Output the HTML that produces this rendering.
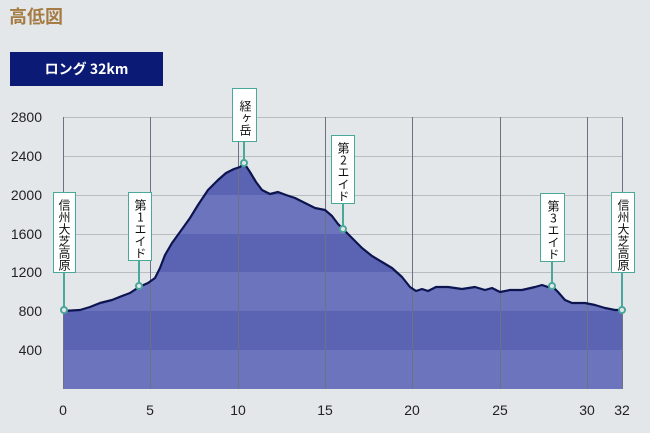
<!DOCTYPE html>
<html><head><meta charset="utf-8"><style>
body{margin:0;width:650px;height:433px;background:#e4e7ea;overflow:hidden;position:relative;font-family:"Liberation Sans","Noto Sans CJK JP",sans-serif}
.t{position:absolute;left:9px;top:3px;font-size:18px;font-weight:bold;color:#a47c44;font-family:"Noto Sans CJK JP",sans-serif}
.b{position:absolute;left:10px;top:52px;width:153px;height:34px;background:#0b1a74;color:#fff;font-size:14px;font-weight:bold;text-align:center;line-height:34px;font-family:"Noto Sans CJK JP",sans-serif}
.lb{position:absolute;background:#fff;border:1px solid #4aa89a;box-sizing:border-box;writing-mode:vertical-rl;text-orientation:upright;font-size:12px;line-height:22px;text-align:center;padding-top:5px;color:#111;font-family:"Noto Sans CJK JP",sans-serif;letter-spacing:0px}
</style></head><body>
<div class="t">高低図</div>
<div class="b">ロング 32km</div>
<svg width="650" height="433" style="position:absolute;left:0;top:0">
<defs><clipPath id="c"><path d="M63,389 L63,311 80,310 90,307 100,303 112,300 122,296 130,293 139,287 148,283 155,278 160,268 165,255 172,243 180,232 190,218 198,205 208,190 218,180 226,173 234,169 240,167 244,163 250,172 256,182 262,190 270,194 278,192 286,195 295,198 305,203 315,208 325,210 332,216 338,224 343,229 352,238 362,248 372,256 382,262 392,268 402,277 410,287 416,291 422,289 428,291 436,287 448,287 462,289 475,287 485,290 492,288 500,292 510,290 522,290 535,287 542,285 548,287 552,286 558,292 565,300 572,303 585,303 595,305 605,308 615,310 622,310 L622,389 Z"/></clipPath></defs>
<g stroke="#b9bcc0" stroke-width="1">
<line x1="63" y1="117.5" x2="622" y2="117.5"/><line x1="63" y1="156.5" x2="622" y2="156.5"/><line x1="63" y1="195.5" x2="622" y2="195.5"/><line x1="63" y1="234.5" x2="622" y2="234.5"/><line x1="63" y1="272.5" x2="622" y2="272.5"/><line x1="63" y1="311.5" x2="622" y2="311.5"/><line x1="63" y1="350.5" x2="622" y2="350.5"/>
</g>
<g clip-path="url(#c)">
<rect x="63" y="100" width="560" height="95" fill="#5a64b3"/>
<rect x="63" y="195" width="560" height="39" fill="#6b74bd"/>
<rect x="63" y="234" width="560" height="38" fill="#5a64b3"/>
<rect x="63" y="272" width="560" height="39" fill="#6b74bd"/>
<rect x="63" y="311" width="560" height="39" fill="#5a64b3"/>
<rect x="63" y="350" width="560" height="39" fill="#6b74bd"/>
</g>
<g stroke="#6d7282" stroke-width="1">
<line x1="63.5" y1="117" x2="63.5" y2="389"/><line x1="150.5" y1="117" x2="150.5" y2="389"/><line x1="238.5" y1="117" x2="238.5" y2="389"/><line x1="325.5" y1="117" x2="325.5" y2="389"/><line x1="412.5" y1="117" x2="412.5" y2="389"/><line x1="500.5" y1="117" x2="500.5" y2="389"/><line x1="587.5" y1="117" x2="587.5" y2="389"/><line x1="622.5" y1="117" x2="622.5" y2="389"/>
</g>
<path fill="none" stroke="#0d1550" stroke-width="2.2" stroke-linejoin="round" d="M63,311 80,310 90,307 100,303 112,300 122,296 130,293 139,287 148,283 155,278 160,268 165,255 172,243 180,232 190,218 198,205 208,190 218,180 226,173 234,169 240,167 244,163 250,172 256,182 262,190 270,194 278,192 286,195 295,198 305,203 315,208 325,210 332,216 338,224 343,229 352,238 362,248 372,256 382,262 392,268 402,277 410,287 416,291 422,289 428,291 436,287 448,287 462,289 475,287 485,290 492,288 500,292 510,290 522,290 535,287 542,285 548,287 552,286 558,292 565,300 572,303 585,303 595,305 605,308 615,310 622,310"/>
<g stroke="#4aa89a" stroke-width="2" fill="#e4e7ea">
<line x1="64" y1="272" x2="64" y2="310"/><circle cx="64" cy="310" r="3"/>
<line x1="139" y1="260" x2="139" y2="286"/><circle cx="139" cy="286" r="3"/>
<line x1="244" y1="141" x2="244" y2="163"/><circle cx="244" cy="163" r="3"/>
<line x1="343" y1="203" x2="343" y2="229"/><circle cx="343" cy="229" r="3"/>
<line x1="552" y1="261" x2="552" y2="286"/><circle cx="552" cy="286" r="3"/>
<line x1="622" y1="272" x2="622" y2="310"/><circle cx="622" cy="310" r="3"/>
</g>
<g font-size="14" fill="#222" font-family="Liberation Sans,sans-serif">
<g text-anchor="end"><text x="42" y="122">2800</text><text x="42" y="161">2400</text><text x="42" y="200">2000</text><text x="42" y="239">1600</text><text x="42" y="277">1200</text><text x="42" y="316">800</text><text x="42" y="355">400</text></g>
<g text-anchor="middle"><text x="63" y="415">0</text><text x="150" y="415">5</text><text x="238" y="415">10</text><text x="325" y="415">15</text><text x="412" y="415">20</text><text x="500" y="415">25</text><text x="587" y="415">30</text><text x="622" y="415">32</text></g>
</g>
</svg>
<div class="lb" style="left:53px;top:192px;width:23px;height:81px">信州大芝高原</div>
<div class="lb" style="left:128px;top:192px;width:24px;height:69px">第1エイド</div>
<div class="lb" style="left:232px;top:88px;width:25px;height:54px">経ヶ岳</div>
<div class="lb" style="left:331px;top:135px;width:24px;height:69px">第2エイド</div>
<div class="lb" style="left:540px;top:193px;width:25px;height:69px">第3エイド</div>
<div class="lb" style="left:611px;top:192px;width:24px;height:81px">信州大芝高原</div>
</body></html>
